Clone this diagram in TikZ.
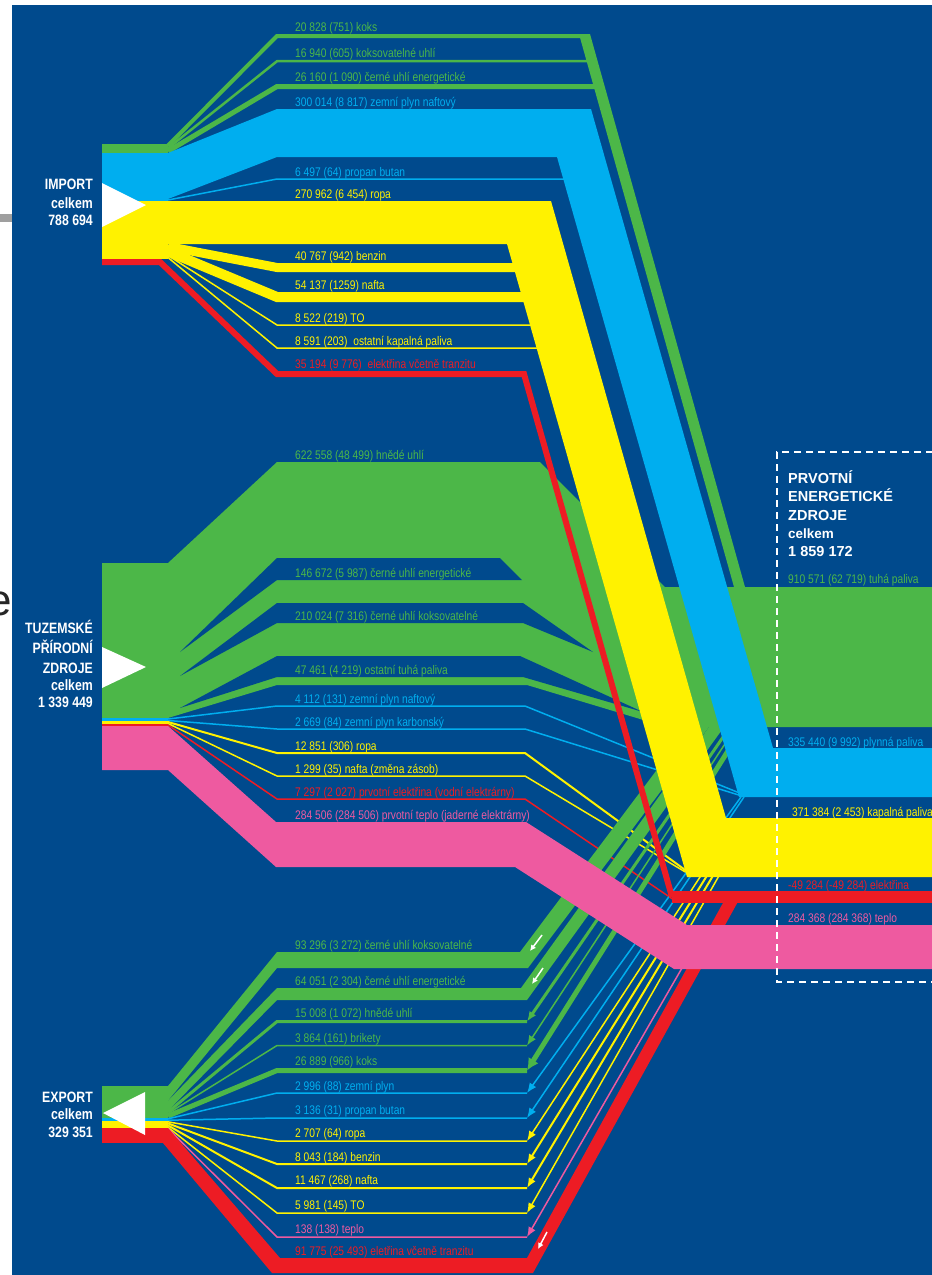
\documentclass[tikz,border=0pt]{standalone}
\usepackage{fontspec}
\newfontfamily\narrowfont[FakeStretch=0.82]{Liberation Sans}
\newfontfamily\boxfont{Liberation Sans}
\usetikzlibrary{arrows.meta}

\definecolor{bgblue}{RGB}{0,74,141}
\definecolor{fgreen}{RGB}{76,183,72}
\definecolor{fcyan}{RGB}{0,174,239}
\definecolor{fyellow}{RGB}{255,242,0}
\definecolor{fred}{RGB}{237,28,36}
\definecolor{fpink}{RGB}{238,90,160}

\tikzset{
  flowlabel/.style={anchor=base west, inner sep=0pt, font=\narrowfont\fontsize{12.5}{14}\selectfont},
  sumlabel/.style={anchor=base east, inner sep=0pt, text=white, font=\narrowfont\bfseries\fontsize{15}{17}\selectfont},
  boxlabel/.style={anchor=base west, inner sep=0pt, text=white, font=\boxfont\bfseries\fontsize{14.5}{17}\selectfont},
  thinflow/.style={line width=1.5pt, line join=miter},
  exptip/.style={-{Latex[length=10pt,width=8pt]}},
  whitetip/.style={white, line width=1.5pt, -{Latex[length=6pt,width=6pt]}},
}

\begin{document}
\begin{tikzpicture}[x=1pt,y=-1pt]
		\useasboundingbox (0,0) rectangle (932,1275);
		\clip (0,0) rectangle (932,1275);
		\fill[white] (0,0) rectangle (932,1275);
		\node[anchor=east, inner sep=0pt, font=\boxfont\fontsize{44}{44}\selectfont, text=black!85] (cut) at (12,604) {e};
		\fill[bgblue] (12,5) rectangle (932,1275);
		\fill[gray!75] (0,214) rectangle (12,222);
		
		% tuzemske thin flows
		\draw[fcyan, thinflow] (168,719) -- (277,706) -- (525,706) -- (742,794);
		\draw[fcyan, thinflow] (168,720.5) -- (277,729) -- (525,729) -- (742,796);
		\draw[fyellow, line width=2pt, line join=miter] (168,722) -- (277,753) -- (525,753) -- (692,875);
		\draw[fyellow, thinflow] (168,723.5) -- (277,776) -- (525,776) -- (692,876);
		\draw[fred, thinflow] (168,725) -- (277,799) -- (525,799) -- (674,900);
		
		% export flows
		\fill[fgreen] (168,1086) -- (277,952) -- (520,952) -- (689,727) -- (709,727) -- (528,968) -- (277,968) -- (168,1100.7) -- cycle;
		\fill[fgreen] (168,1100.7) -- (277,988) -- (521,988) -- (709,727) -- (724,727) -- (527,1000) -- (277,1000) -- (168,1110.8) -- cycle;
		\draw[fgreen, line width=3pt, line join=miter] (168,1112) -- (277,1021.5) -- (527,1021.5);
		\draw[fgreen, line width=3pt, exptip] (730,727) -- (527,1021.5);
		\draw[fgreen, thinflow] (168,1113.5) -- (277,1045.5) -- (527,1045.5);
		\draw[fgreen, line width=1.5pt, exptip] (736,727) -- (527,1045.5);
		\draw[fgreen, line width=5pt, line join=miter] (168,1116) -- (277,1070.5) -- (527,1070.5);
		\draw[fgreen, line width=5pt, -{Latex[length=12pt,width=12pt]}] (743,727) -- (527,1070.5);
		\draw[fcyan, thinflow] (168,1118.8) -- (277,1093) -- (527,1093);
		\draw[fcyan, line width=1.5pt, exptip] (741,797) -- (527,1093);
		\draw[fcyan, thinflow] (168,1120.2) -- (277,1118) -- (527,1118);
		\draw[fcyan, line width=1.5pt, exptip] (744,797) -- (527,1118);
		\draw[fyellow, thinflow] (168,1121.8) -- (277,1141) -- (527,1141);
		\draw[fyellow, line width=1.5pt, exptip] (702,874) -- (527,1141);
		\draw[fyellow, line width=2pt, line join=miter] (168,1123.4) -- (277,1164) -- (527,1164);
		\draw[fyellow, line width=2pt, exptip] (708,874) -- (527,1164);
		\draw[fyellow, line width=2pt, line join=miter] (168,1125.4) -- (277,1188) -- (527,1188);
		\draw[fyellow, line width=2pt, exptip] (714,874) -- (527,1188);
		\draw[fyellow, thinflow] (168,1127.3) -- (277,1213) -- (527,1213);
		\draw[fyellow, line width=1.5pt, exptip] (720,874) -- (527,1213);
		\draw[fpink, thinflow] (168,1128.5) -- (277,1237) -- (527,1237);
		\draw[fpink, line width=1.5pt, exptip] (682,968) -- (527,1237);
		\fill[fred] (168,1128) -- (280,1258) -- (527,1258) -- (725.7,898) -- (740,898) -- (533,1273) -- (272,1273) -- (163,1143) -- cycle;
		
		% teplo
		\fill[fpink] (102,726) -- (168,726) -- (276,822) -- (526,822) -- (687,925) -- (932,925) -- (932,969) -- (674,969) -- (515,867) -- (276,867) -- (168,770) -- (102,770) -- cycle;
		
		% tuzemske pevna paliva
		\fill[fgreen] (102,563) -- (168,563) -- (277,462) -- (540,462) -- (665,587) -- (932,587) -- (932,727) -- (665,727) -- (650,722) -- (527,685) -- (277,685) -- (168,718) -- (102,718) -- cycle;
		\fill[bgblue] (180,652) -- (277,558) -- (500,558) -- (522,580) -- (277,580) -- cycle;
		\fill[bgblue] (180,676) -- (277,603) -- (523,603) -- (593,652) -- (523,623) -- (277,623) -- cycle;
		\fill[bgblue] (180,708) -- (277,656) -- (520,656) -- (643,712) -- (523,677) -- (277,677) -- cycle;
		
		% import
		\draw[fgreen, line width=4pt, line join=miter] (168,145.5) -- (277,36) -- (585,36);
		\draw[fgreen, line width=2.5pt, line join=miter] (168,148.2) -- (277,61.2) -- (592,61.2);
		\draw[fgreen, line width=5pt, line join=miter] (168,151.2) -- (277,86.5) -- (600,86.5);
		\fill[fgreen] (579,34) -- (590,34) -- (745,587) -- (734,587) -- cycle;
		\draw[fcyan, thinflow] (168,200) -- (277,179) -- (566,179);
		\fill[fcyan] (168,153) -- (277,109) -- (591,109) -- (773,748) -- (932,748) -- (932,797) -- (739,797) -- (557,157) -- (277,157) -- (168,199) -- cycle;
		\draw[fyellow, line width=9pt, line join=miter] (168,246.5) -- (277,267.5) -- (518,267.5);
		\draw[fyellow, line width=10pt, line join=miter] (168,251.5) -- (277,297) -- (524,297);
		\draw[fyellow, thinflow] (168,255.5) -- (277,325) -- (532,325);
		\draw[fyellow, thinflow] (168,257.5) -- (277,348) -- (538,348);
		\draw[fred, line width=6pt, line join=miter] (102,262) -- (160,262) -- (277,374) -- (524,374) -- (672,897);
		\fill[fred] (672,891) rectangle (932,903);
		\fill[fyellow] (168,201) -- (551,201) -- (726,818) -- (932,818) -- (932,877) -- (687,877) -- (507,244) -- (168,244) -- cycle;
		
		% zdroje
		\fill[fgreen] (102,144) rectangle (168,153);
		\fill[fcyan] (102,153) rectangle (168,201);
		\fill[fyellow] (102,201) rectangle (168,259);
		\fill[fred] (102,259) rectangle (160,265);
		\fill[fgreen] (102,563) rectangle (168,718);
		\fill[fcyan] (102,718) rectangle (168,721);
		\fill[fyellow] (102,721) rectangle (168,724);
		\fill[fred] (102,724) rectangle (168,726);
		\fill[fgreen] (102,1086) rectangle (168,1118);
		\fill[fcyan] (102,1118) rectangle (168,1121);
		\fill[fyellow] (102,1121) rectangle (168,1128);
		\fill[fred] (102,1128) rectangle (168,1143);
		\fill[white] (102,183) -- (146,205) -- (102,227) -- cycle;
		\fill[white] (102,647) -- (146,667) -- (102,688) -- cycle;
		\fill[white] (103,1113) -- (145,1092) -- (145,1135) -- cycle;
		
		\draw[whitetip] (542,935) -- (530,951);
		\draw[whitetip] (543,968) -- (532,984);
		\draw[whitetip] (547,1232) -- (538,1249);
		
		\node[sumlabel] (imp1) at (93,189) {IMPORT};
		\node[sumlabel] (imp2) at (93,208) {celkem};
		\node[sumlabel] (imp3) at (93,225) {788 694};
		\node[sumlabel] (tz1) at (93,633) {TUZEMSKÉ};
		\node[sumlabel] (tz2) at (93,653) {PŘÍRODNÍ};
		\node[sumlabel] (tz3) at (93,673) {ZDROJE};
		\node[sumlabel] (tz4) at (93,690) {celkem};
		\node[sumlabel] (tz5) at (93,707) {1 339 449};
		\node[sumlabel] (ex1) at (93,1102) {EXPORT};
		\node[sumlabel] (ex2) at (93,1119) {celkem};
		\node[sumlabel] (ex3) at (93,1137) {329 351};
		
		\node[flowlabel, text=fgreen] (impkoks) at (295,31) {20 828 (751) koks};
		\node[flowlabel, text=fgreen] (impkoksuhli) at (295,57) {16 940 (605) koksovatelné uhlí};
		\node[flowlabel, text=fgreen] (impcerne) at (295,81) {26 160 (1 090) černé uhlí energetické};
		\node[flowlabel, text=fcyan] (impplyn) at (295,106) {300 014 (8 817) zemní plyn naftový};
		\node[flowlabel, text=fcyan] (imppropan) at (295,176) {6 497 (64) propan butan};
		\node[flowlabel, text=fyellow] (impropa) at (295,198) {270 962 (6 454) ropa};
		\node[flowlabel, text=fyellow] (impbenzin) at (295,260) {40 767 (942) benzin};
		\node[flowlabel, text=fyellow] (impnafta) at (295,289) {54 137 (1259) nafta};
		\node[flowlabel, text=fyellow] (impto) at (295,322) {8 522 (219) TO};
		\node[flowlabel, text=fyellow] (impostatni) at (295,345) {8 591 (203)\ \ ostatní kapalná paliva};
		\node[flowlabel, text=fred] (impel) at (295,368) {35 194 (9 776)\ \ elektřina včetně tranzitu};
		
		\node[flowlabel, text=fgreen] (tzhnede) at (295,459) {622 558 (48 499) hnědé uhlí};
		\node[flowlabel, text=fgreen] (tzcerneen) at (295,577) {146 672 (5 987) černé uhlí energetické};
		\node[flowlabel, text=fgreen] (tzcernekoks) at (295,620) {210 024 (7 316) černé uhlí koksovatelné};
		\node[flowlabel, text=fgreen] (tzostatni) at (295,674) {47 461 (4 219) ostatní tuhá paliva};
		\node[flowlabel, text=fcyan] (tzplynnaft) at (295,703) {4 112 (131) zemní plyn naftový};
		\node[flowlabel, text=fcyan] (tzplynkarb) at (295,726) {2 669 (84) zemní plyn karbonský};
		\node[flowlabel, text=fyellow] (tzropa) at (295,750) {12 851 (306) ropa};
		\node[flowlabel, text=fyellow] (tznafta) at (295,773) {1 299 (35) nafta (změna zásob)};
		\node[flowlabel, text=fred] (tzel) at (295,796) {7 297 (2 027) prvotní elektřina (vodní elektrárny)};
		\node[flowlabel, text=fpink] (tzteplo) at (295,819) {284 506 (284 506) prvotní teplo (jaderné elektrárny)};
		
		\node[flowlabel, text=fgreen] (exkoksuhli) at (295,949) {93 296 (3 272) černé uhlí koksovatelné};
		\node[flowlabel, text=fgreen] (excerneen) at (295,985) {64 051 (2 304) černé uhlí energetické};
		\node[flowlabel, text=fgreen] (exhnede) at (295,1017) {15 008 (1 072) hnědé uhlí};
		\node[flowlabel, text=fgreen] (exbrikety) at (295,1042) {3 864 (161) brikety};
		\node[flowlabel, text=fgreen] (exkoks) at (295,1065) {26 889 (966) koks};
		\node[flowlabel, text=fcyan] (explyn) at (295,1090) {2 996 (88) zemní plyn};
		\node[flowlabel, text=fcyan] (expropan) at (295,1114) {3 136 (31) propan butan};
		\node[flowlabel, text=fyellow] (exropa) at (295,1137) {2 707 (64) ropa};
		\node[flowlabel, text=fyellow] (exbenzin) at (295,1161) {8 043 (184) benzin};
		\node[flowlabel, text=fyellow] (exnafta) at (295,1184) {11 467 (268) nafta};
		\node[flowlabel, text=fyellow] (exto) at (295,1209) {5 981 (145) TO};
		\node[flowlabel, text=fpink] (exteplo) at (295,1233) {138 (138) teplo};
		\node[flowlabel, text=fred] (exel) at (295,1255) {91 775 (25 493) eletřina včetně tranzitu};
		
		\draw[white, line width=2.5pt, dash pattern=on 7pt off 5pt] (945,452) -- (777,452) -- (777,982) -- (945,982);
		\node[boxlabel] (pez1) at (788,483) {PRVOTNÍ};
		\node[boxlabel] (pez2) at (788,501) {ENERGETICKÉ};
		\node[boxlabel] (pez3) at (788,520) {ZDROJE};
		\node[boxlabel, font=\boxfont\bfseries\fontsize{13.5}{16}\selectfont] (pez4) at (788,538) {celkem};
		\node[boxlabel] (pez5) at (788,556) {1 859 172};
		\node[flowlabel, text=fgreen] (pezpevna) at (788,583) {910 571 (62 719) tuhá paliva};
		\node[flowlabel, text=fcyan] (pezplyn) at (788,746) {335 440 (9 992) plynná paliva};
		\node[flowlabel, text=fyellow] (pezkapal) at (792,816) {371 384 (2 453) kapalná paliva};
		\node[flowlabel, text=fred] (pezel) at (788,889) {-49 284 (-49 284) elektřina};
		\node[flowlabel, text=fpink] (pezteplo) at (788,922) {284 368 (284 368) teplo};
	\end{tikzpicture}
\end{document}
